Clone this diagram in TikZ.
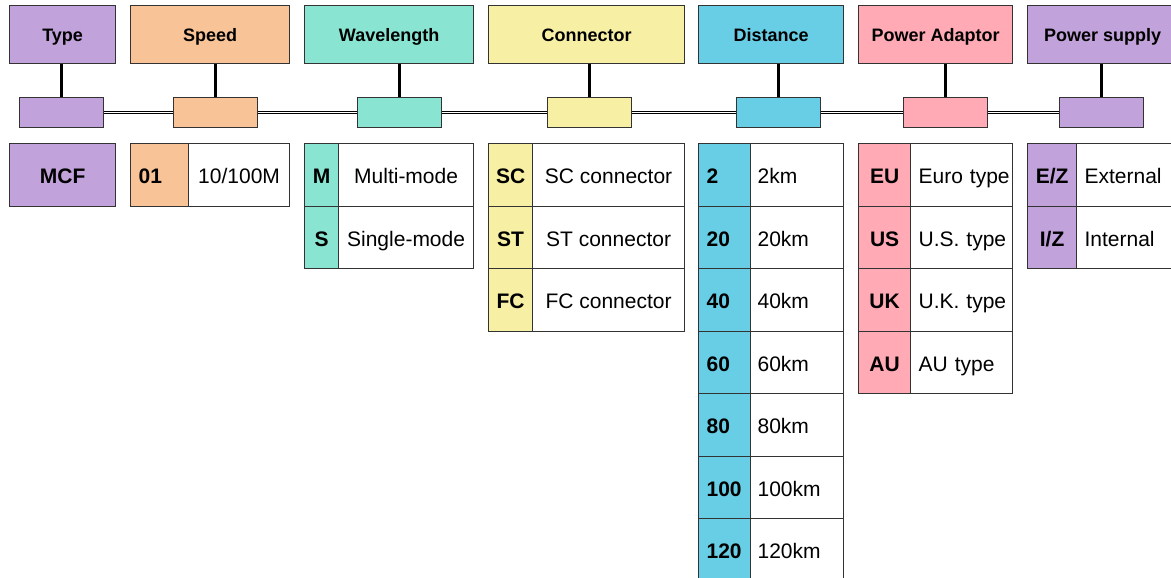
\documentclass[tikz,border=0pt]{standalone}
\usepackage{fontspec}
\setmainfont{Liberation Sans}
\definecolor{cpur}{RGB}{194,162,218}
\definecolor{corg}{RGB}{248,195,150}
\definecolor{cteal}{RGB}{137,229,210}
\definecolor{cyel}{RGB}{247,240,164}
\definecolor{cblue}{RGB}{103,206,229}
\definecolor{cpink}{RGB}{255,170,181}
\definecolor{bord}{RGB}{51,51,51}
\tikzset{
  box/.style={draw=bord, line width=1.2pt, rectangle, inner sep=0pt, anchor=north west},
  head/.style={box, minimum height=58pt, text height=13pt, text depth=0pt, font=\fontsize{18}{20}\selectfont\bfseries},
  bus/.style={box, minimum width=84pt, minimum height=30pt},
  keyc/.style={box, minimum height=62.5pt, text height=17.6pt, text depth=0pt, font=\fontsize{21}{24}\selectfont\bfseries},
  valc/.style={box, minimum height=62.5pt, text height=17.6pt, text depth=0pt, fill=white, font=\fontsize{21}{24}\selectfont},
  lft/.style={align=left, text width=#1, minimum width=#1},
  vline/.style={line width=2.4pt, black},
  dline/.style={double=white, double distance=1.6pt, line width=0.9pt, black}
}
\newcommand{\padl}[1]{\hspace*{#1}}
\begin{document}
\begin{tikzpicture}[x=1pt,y=-1pt]
\useasboundingbox (0,0) rectangle (1171,578);
\clip (0,0) rectangle (1171,578);
\fill[white] (0,0) rectangle (1171,578);
% headers
\node[head, fill=cpur,  minimum width=106pt] (h1) at (9,5)    {Type};
\node[head, fill=corg,  minimum width=159pt] (h2) at (130,5)  {Speed};
\node[head, fill=cteal, minimum width=169pt] (h3) at (304,5)  {Wavelength};
\node[head, fill=cyel,  minimum width=196pt] (h4) at (488,5)  {Connector};
\node[head, fill=cblue, minimum width=145pt] (h5) at (698,5)  {Distance};
\node[head, fill=cpink, minimum width=154pt] (h6) at (858,5)  {Power Adaptor};
\node[head, fill=cpur,  minimum width=150pt] (h7) at (1027,5) {Power supply};
% bus boxes
\node[bus, fill=cpur]  (b1) at (19,97)   {};
\node[bus, fill=corg]  (b2) at (173,97)  {};
\node[bus, fill=cteal] (b3) at (357,97)  {};
\node[bus, fill=cyel]  (b4) at (547,97)  {};
\node[bus, fill=cblue] (b5) at (736,97)  {};
\node[bus, fill=cpink] (b6) at (903,97)  {};
\node[bus, fill=cpur]  (b7) at (1059,97) {};
% connectors
\foreach \i in {1,...,7} {
  \draw[vline] (b\i.north) -- (b\i.north |- h\i.south);
}
\foreach \i/\j in {1/2,2/3,3/4,4/5,5/6,6/7} {
  \draw[dline] (b\i.east) -- (b\j.west);
}
% Type
\node[keyc, fill=cpur, minimum width=106pt] (t1k) at (9,143) {MCF};
% Speed
\node[keyc, fill=corg, lft=58pt] (t2k1) at (130,143) {\padl{8pt}01};
\node[valc, minimum width=101pt] (t2v1) at (188,143) {10/100M};
% Wavelength
\foreach \k/\v [count=\n from 0] in {M/Multi-mode,S/Single-mode} {
  \node[keyc, fill=cteal, minimum width=34pt] (t3k\n) at (304,143+62.5*\n) {\k};
  \node[valc, minimum width=135pt] (t3v\n) at (338,143+62.5*\n) {\v};
}
% Connector
\foreach \k/\v [count=\n from 0] in {SC/SC connector,ST/ST connector,FC/FC connector} {
  \node[keyc, fill=cyel, minimum width=44pt] (t4k\n) at (488,143+62.5*\n) {\k};
  \node[valc, minimum width=152pt] (t4v\n) at (532,143+62.5*\n) {\v};
}
% Distance
\foreach \k [count=\n from 0] in {2,20,40,60,80,100,120} {
  \node[keyc, fill=cblue, lft=52pt] (t5k\n) at (698,143+62.5*\n) {\padl{8pt}\k};
  \node[valc, lft=93pt] (t5v\n) at (750,143+62.5*\n) {\padl{7pt}\k km};
}
% Power Adaptor
\foreach \k/\v [count=\n from 0] in {EU/Euro type,US/U.S. type,UK/U.K. type,AU/AU type} {
  \node[keyc, fill=cpink, minimum width=52pt] (t6k\n) at (858,143+62.5*\n) {\k};
  \node[valc, lft=102pt] (t6v\n) at (910,143+62.5*\n) {\padl{8pt}\v};
}
% Power supply
\node[keyc, fill=cpur, minimum width=49pt] (t7k0) at (1027,143) {E/Z};
\node[valc, lft=101pt] (t7v0) at (1076,143) {\padl{8pt}External};
\node[keyc, fill=cpur, minimum width=49pt] (t7k1) at (1027,205.5) {I/Z};
\node[valc, lft=101pt] (t7v1) at (1076,205.5) {\padl{8pt}Internal};
\end{tikzpicture}
\end{document}
